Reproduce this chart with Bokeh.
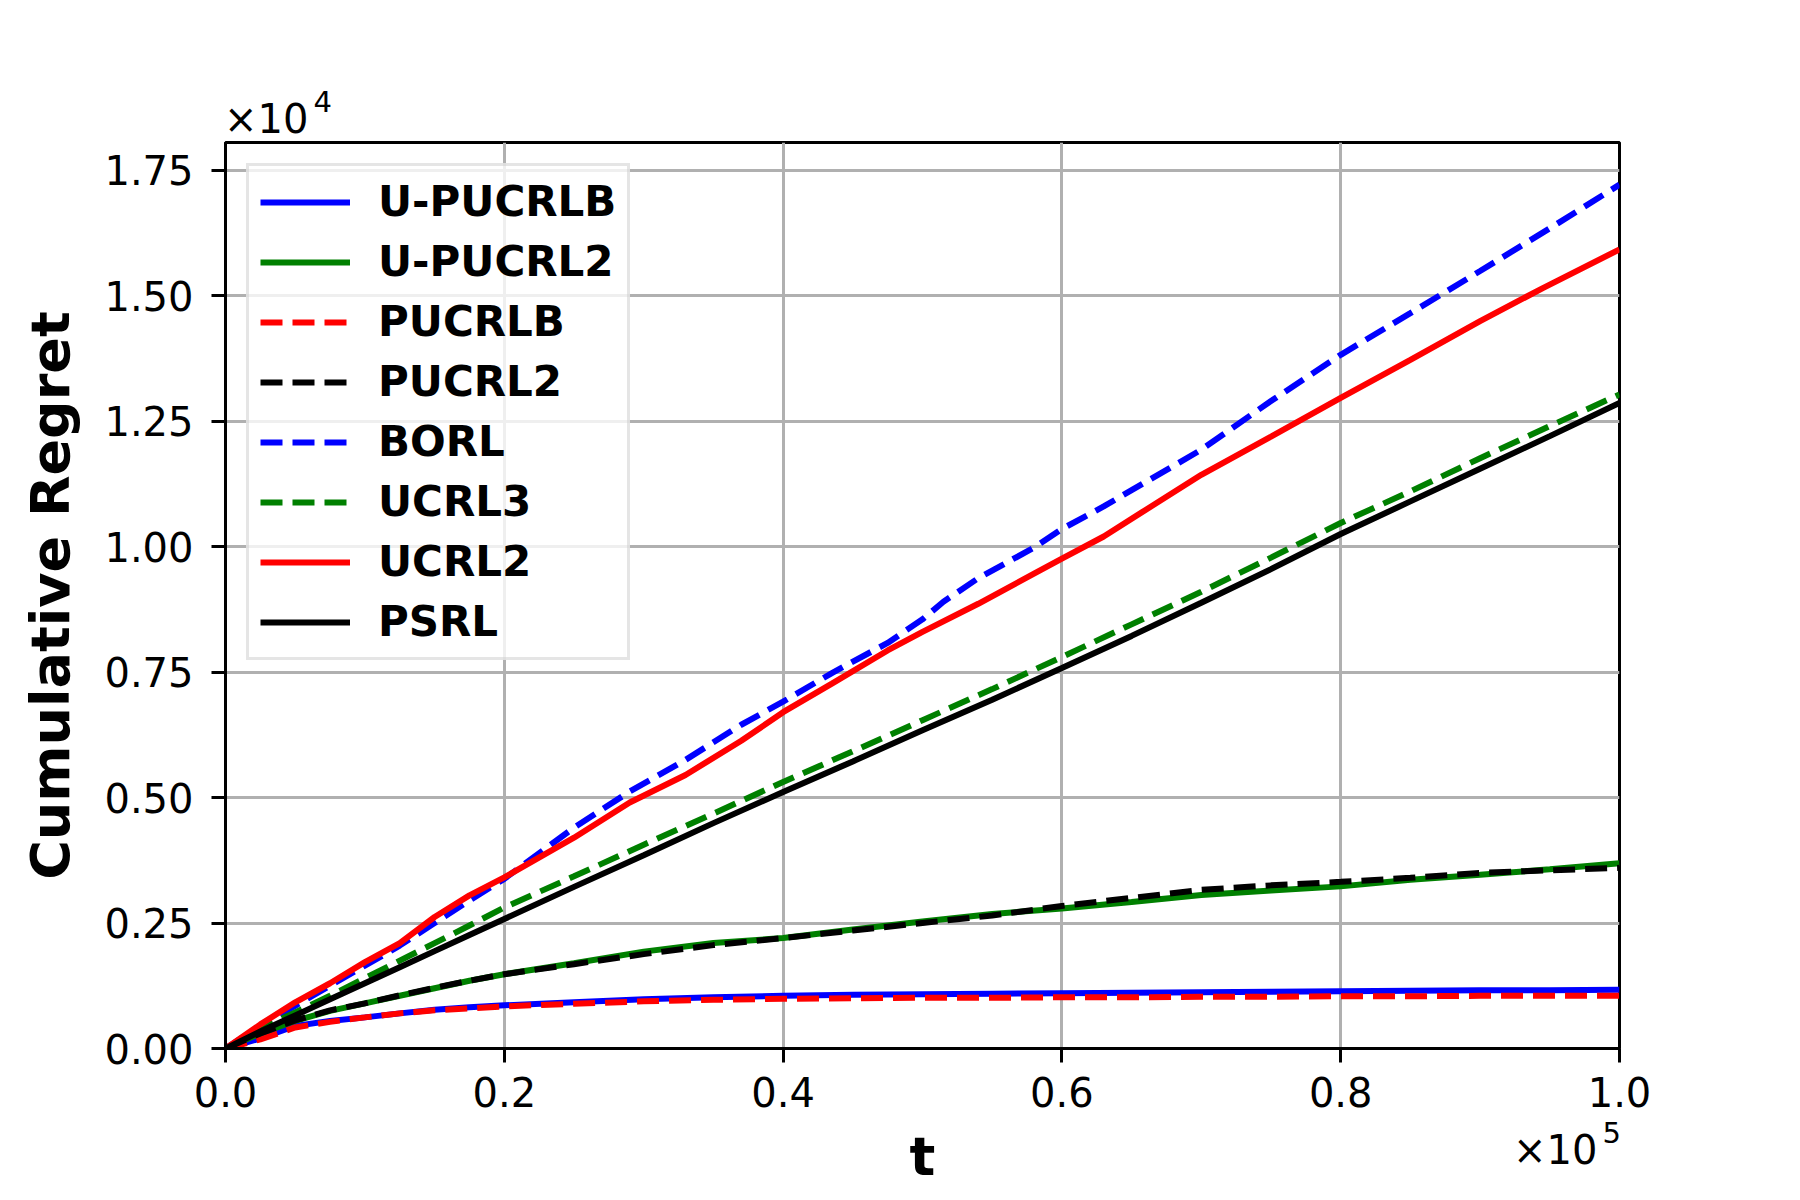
from bokeh.plotting import figure
from bokeh.models import (FixedTicker, NumeralTickFormatter, Legend, LegendItem,
                          Range1d, Label)
from bokeh.core.enums import CoordinateUnits
from bokeh.embed import file_html
from bokeh.resources import INLINE

# t in units of 1e5, regret in units of 1e4
t = [0, 0.025, 0.05, 0.075, 0.1, 0.125, 0.15, 0.175, 0.2, 0.25, 0.3, 0.35, 0.4,
     0.45, 0.5, 0.55, 0.6, 0.65, 0.7, 0.75, 0.8, 0.85, 0.9, 0.95, 1.0]

u_pucrlb = [0, 0.02, 0.045, 0.055, 0.062, 0.07, 0.077, 0.082, 0.086, 0.092, 0.098, 0.102, 0.105,
            0.107, 0.108, 0.109, 0.11, 0.111, 0.112, 0.113, 0.114, 0.115, 0.116, 0.116, 0.117]
u_pucrl2 = [0, 0.03, 0.055, 0.075, 0.09, 0.105, 0.12, 0.135, 0.148, 0.17, 0.193, 0.21, 0.22,
            0.237, 0.253, 0.268, 0.279, 0.292, 0.306, 0.315, 0.323, 0.336, 0.346, 0.357, 0.369]
pucrlb = [0, 0.018, 0.042, 0.053, 0.062, 0.07, 0.076, 0.08, 0.084, 0.089, 0.094, 0.097, 0.099,
          0.1, 0.101, 0.101, 0.102, 0.102, 0.103, 0.103, 0.104, 0.104, 0.105, 0.105, 0.105]
pucrl2 = [0, 0.03, 0.056, 0.076, 0.09, 0.106, 0.121, 0.135, 0.148, 0.168, 0.188, 0.206, 0.22,
          0.235, 0.25, 0.265, 0.284, 0.3, 0.316, 0.325, 0.332, 0.34, 0.35, 0.355, 0.36]
ucrl3 = [0, 0.04, 0.072, 0.105, 0.14, 0.175, 0.21, 0.245, 0.281, 0.343, 0.406, 0.468, 0.531,
         0.592, 0.654, 0.716, 0.78, 0.845, 0.91, 0.978, 1.047, 1.11, 1.176, 1.24, 1.303]
psrl = [0, 0.034, 0.066, 0.098, 0.13, 0.162, 0.194, 0.226, 0.258, 0.322, 0.385, 0.449, 0.511,
        0.572, 0.634, 0.695, 0.758, 0.822, 0.888, 0.955, 1.025, 1.09, 1.155, 1.22, 1.286]

# BORL and UCRL2 read at their own, denser t values
t_borl = [0, 0.025, 0.05, 0.075, 0.1, 0.125, 0.15, 0.175, 0.2, 0.25, 0.29, 0.33, 0.37, 0.4,
          0.435, 0.475, 0.5, 0.515, 0.54, 0.58, 0.6, 0.63, 0.7, 0.75, 0.8, 0.85, 0.9, 0.95, 1.0]
borl = [0, 0.045, 0.085, 0.125, 0.165, 0.205, 0.25, 0.295, 0.338, 0.44, 0.512, 0.575, 0.645,
        0.691, 0.748, 0.808, 0.855, 0.89, 0.937, 0.998, 1.035, 1.08, 1.193, 1.29, 1.382, 1.465,
        1.549, 1.634, 1.721]
t_ucrl2 = [0, 0.025, 0.05, 0.075, 0.1, 0.125, 0.15, 0.175, 0.2, 0.25, 0.29, 0.33, 0.37, 0.4,
           0.435, 0.475, 0.5, 0.54, 0.58, 0.6, 0.63, 0.66, 0.7, 0.75, 0.8, 0.85, 0.9, 0.945, 1.0]
ucrl2 = [0, 0.048, 0.092, 0.13, 0.172, 0.21, 0.262, 0.305, 0.341, 0.42, 0.49, 0.545, 0.613,
         0.67, 0.727, 0.793, 0.83, 0.886, 0.946, 0.976, 1.02, 1.073, 1.143, 1.219, 1.296,
         1.372, 1.449, 1.515, 1.592]

series = [
    ("U-PUCRLB", t, u_pucrlb, "blue", "solid"),
    ("U-PUCRL2", t, u_pucrl2, "green", "solid"),
    ("PUCRLB", t, pucrlb, "red", "dashed"),
    ("PUCRL2", t, pucrl2, "black", "dashed"),
    ("BORL", t_borl, borl, "blue", "dashed"),
    ("UCRL3", t, ucrl3, "green", "dashed"),
    ("UCRL2", t_ucrl2, ucrl2, "red", "solid"),
    ("PSRL", t, psrl, "black", "solid"),
]

x_ticks = [0.0, 0.2, 0.4, 0.6, 0.8, 1.0]
y_ticks = [0.0, 0.25, 0.5, 0.75, 1.0, 1.25, 1.5, 1.75]

FONT = "DejaVu Sans"
W, H = 1780, 1190
BL, BR, BT, BB = 225, 161, 142, 132

p = figure(width=W, height=H, output_backend="svg", toolbar_location=None,
           x_range=Range1d(0, 1.0), y_range=Range1d(0, 1.805),
           min_border_left=BL, min_border_right=BR,
           min_border_top=BT, min_border_bottom=BB)

p.background_fill_color = "white"
p.border_fill_color = "white"
p.outline_line_color = "black"
p.outline_line_width = 3

items = []
for name, xs, ys, color, style in series:
    dash = "solid" if style == "solid" else "22 10"
    r = p.line(xs, ys, line_color=color, line_width=6, line_dash=dash)
    items.append(LegendItem(label=name, renderers=[r]))

legend = Legend(items=items, location="top_left", margin=21,
                label_text_font=FONT, label_text_font_size="42px",
                label_text_font_style="bold", label_text_color="black",
                glyph_width=90, glyph_height=40, label_height=40,
                spacing=11, padding=11, label_standoff=28,
                border_line_color="#cccccc", border_line_width=3,
                background_fill_color="white", background_fill_alpha=0.8)
p.add_layout(legend)

for ax in (p.xaxis[0], p.yaxis[0]):
    ax.axis_line_color = "black"
    ax.axis_line_width = 3
    ax.major_tick_line_color = "black"
    ax.major_tick_line_width = 3
    ax.major_tick_out = 14
    ax.major_tick_in = 0
    ax.minor_tick_line_color = None
    ax.major_label_text_font = FONT
    ax.major_label_text_font_size = "40px"
    ax.major_label_text_color = "black"
    ax.axis_label_text_font = FONT
    ax.axis_label_text_font_size = "54px"
    ax.axis_label_text_font_style = "bold"
    ax.axis_label_text_color = "black"

p.xaxis.ticker = FixedTicker(ticks=x_ticks)
p.yaxis.ticker = FixedTicker(ticks=y_ticks)
p.xaxis.formatter = NumeralTickFormatter(format="0.0")
p.yaxis.formatter = NumeralTickFormatter(format="0.00")
p.xaxis.axis_label = "t"
p.yaxis.axis_label = "Cumulative Regret"
p.xaxis.major_label_standoff = 14
p.yaxis.major_label_standoff = 18
p.xaxis.axis_label_standoff = 15
p.yaxis.axis_label_standoff = 19

p.xgrid.ticker = FixedTicker(ticks=x_ticks)
p.ygrid.ticker = FixedTicker(ticks=y_ticks)
p.grid.grid_line_color = "#b0b0b0"
p.grid.grid_line_width = 3

# offset texts (placed in side panels so they are not clipped to the frame)
units = "canvas" if "canvas" in CoordinateUnits else "screen"


def offset_text(x_end, y_base, exponent, side):
    p.add_layout(Label(x=x_end, y=y_base, x_units=units, y_units=units, text="×10",
                       text_align="right", text_baseline="alphabetic", text_font=FONT,
                       text_font_size="40px", text_color="black"), side)
    p.add_layout(Label(x=x_end + 5, y=y_base - 17, x_units=units, y_units=units,
                       text=exponent, text_align="left", text_baseline="alphabetic",
                       text_font=FONT, text_font_size="29px", text_color="black"), side)


offset_text(308, 118, "4", "above")
offset_text(W - BR - 22, 1149, "5", "right")

open("out.html", "w").write(file_html(p, INLINE))
